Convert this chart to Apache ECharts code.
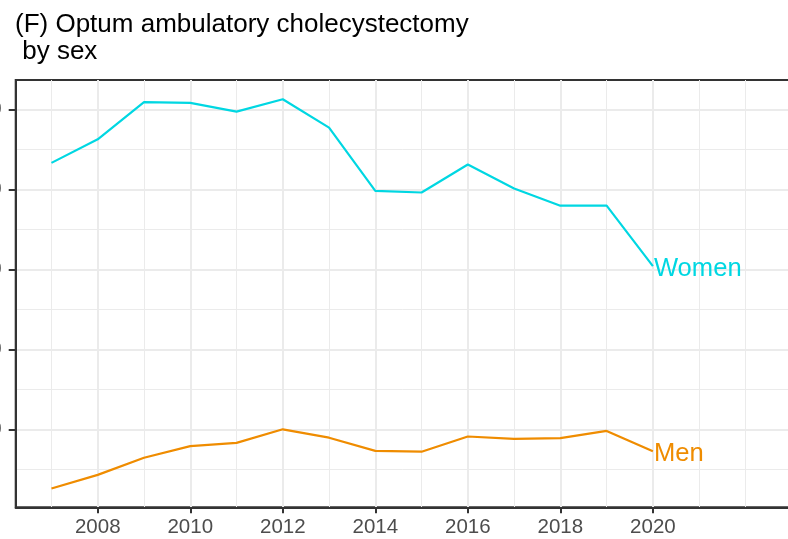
<!DOCTYPE html>
<html>
<head>
<meta charset="utf-8">
<script src="https://cdn.jsdelivr.net/npm/echarts@6/dist/echarts.min.js"></script>
<style>
  html, body { margin: 0; padding: 0; background: #fff; }
  #main { width: 788px; height: 539px; }
</style>
</head>
<body>
<div id="main"></div>
<script>
// values
var years = [2007, 2008, 2009, 2010, 2011, 2012, 2013, 2014, 2015, 2016, 2017, 2018, 2019, 2020];
var women = [43.3, 46.25, 50.9, 50.8, 49.7, 51.25, 47.7, 39.8, 39.6, 43.1, 40.1, 37.95, 37.95, 30.4];
var men = [2.6, 4.3, 6.45, 7.9, 8.3, 10.0, 8.95, 7.3, 7.2, 9.1, 8.8, 8.9, 9.8, 7.25];

var xMajor = [2008, 2010, 2012, 2014, 2016, 2018, 2020];
var xMinor = [2007, 2009, 2011, 2013, 2015, 2017, 2019, 2021, 2022];
var yMajor = [10, 20, 30, 40, 50];
var yMinor = [5, 15, 25, 35, 45];

var font = 'Liberation Sans, Arial, Helvetica, sans-serif';

function pairs(vals) {
    return years.map(function (y, i) { return [y, vals[i]]; });
}

var myChart = echarts.init(document.getElementById('main'));

var option = {
    animation: false,
    title: {
        text: '(F) Optum ambulatory cholecystectomy\n by sex',
        left: 15,
        top: 11.5,
        padding: 0,
        textStyle: {
            fontFamily: font,
            fontSize: 26,
            lineHeight: 27,
            fontWeight: 'normal',
            color: '#000'
        }
    },
    grid: {
        left: 15.7,
        right: -6,
        top: 80,
        bottom: 31.7,
        containLabel: false,
        outerBoundsMode: 'none',
        show: true,
        borderColor: '#333333',
        borderWidth: 2,
        backgroundColor: 'transparent'
    },
    xAxis: [{
        type: 'value',
        min: 2006.227,
        max: 2023.05,
        axisLine: { show: true, lineStyle: { color: '#333333', width: 2 } },
        axisTick: { show: true, length: 6, lineStyle: { color: '#333333', width: 2 }, customValues: xMajor },
        axisLabel: {
            customValues: xMajor,
            formatter: function (v) { return String(v); },
            margin: 10,
            fontFamily: font,
            fontSize: 20.5,
            color: '#4d4d4d'
        },
        splitLine: { show: true, lineStyle: { color: '#ebebeb', width: 2 } }
    }, {
        type: 'value',
        min: 2006.227,
        max: 2023.05,
        axisLine: { show: false },
        axisTick: { show: false, customValues: xMinor },
        axisLabel: { show: false, customValues: xMinor },
        splitLine: { show: true, lineStyle: { color: '#ebebeb', width: 1 } }
    }],
    yAxis: [{
        type: 'value',
        min: 0.25,
        max: 53.66,
        axisLine: { show: true, lineStyle: { color: '#333333', width: 2 } },
        axisTick: { show: true, length: 7, lineStyle: { color: '#333333', width: 2 }, customValues: yMajor },
        axisLabel: {
            customValues: yMajor,
            margin: 14,
            fontFamily: font,
            fontSize: 20.5,
            color: '#4d4d4d'
        },
        splitLine: { show: true, lineStyle: { color: '#ebebeb', width: 2 } }
    }, {
        type: 'value',
        min: 0.25,
        max: 53.66,
        axisLine: { show: false },
        axisTick: { show: false, customValues: yMinor },
        axisLabel: { show: false, customValues: yMinor },
        splitLine: { show: true, lineStyle: { color: '#ebebeb', width: 1 } }
    }],
    series: [{
        name: 'Women',
        type: 'line',
        data: pairs(women),
        showSymbol: false,
        symbol: 'none',
        lineStyle: { color: '#00d7e2', width: 2.2 },
        itemStyle: { color: '#00d7e2' },
        endLabel: {
            show: true,
            formatter: '{a}',
            distance: 1,
            offset: [0, 2.5],
            fontFamily: font,
            fontSize: 25.6,
            color: '#00d7e2'
        },
        z: 3
    }, {
        name: 'Men',
        type: 'line',
        data: pairs(men),
        showSymbol: false,
        symbol: 'none',
        lineStyle: { color: '#ef8c00', width: 2.2 },
        itemStyle: { color: '#ef8c00' },
        endLabel: {
            show: true,
            formatter: '{a}',
            distance: 1,
            offset: [0, 2.5],
            fontFamily: font,
            fontSize: 25.6,
            color: '#ef8c00'
        },
        z: 3
    }]
};

myChart.setOption(option);
</script>
</body>
</html>
